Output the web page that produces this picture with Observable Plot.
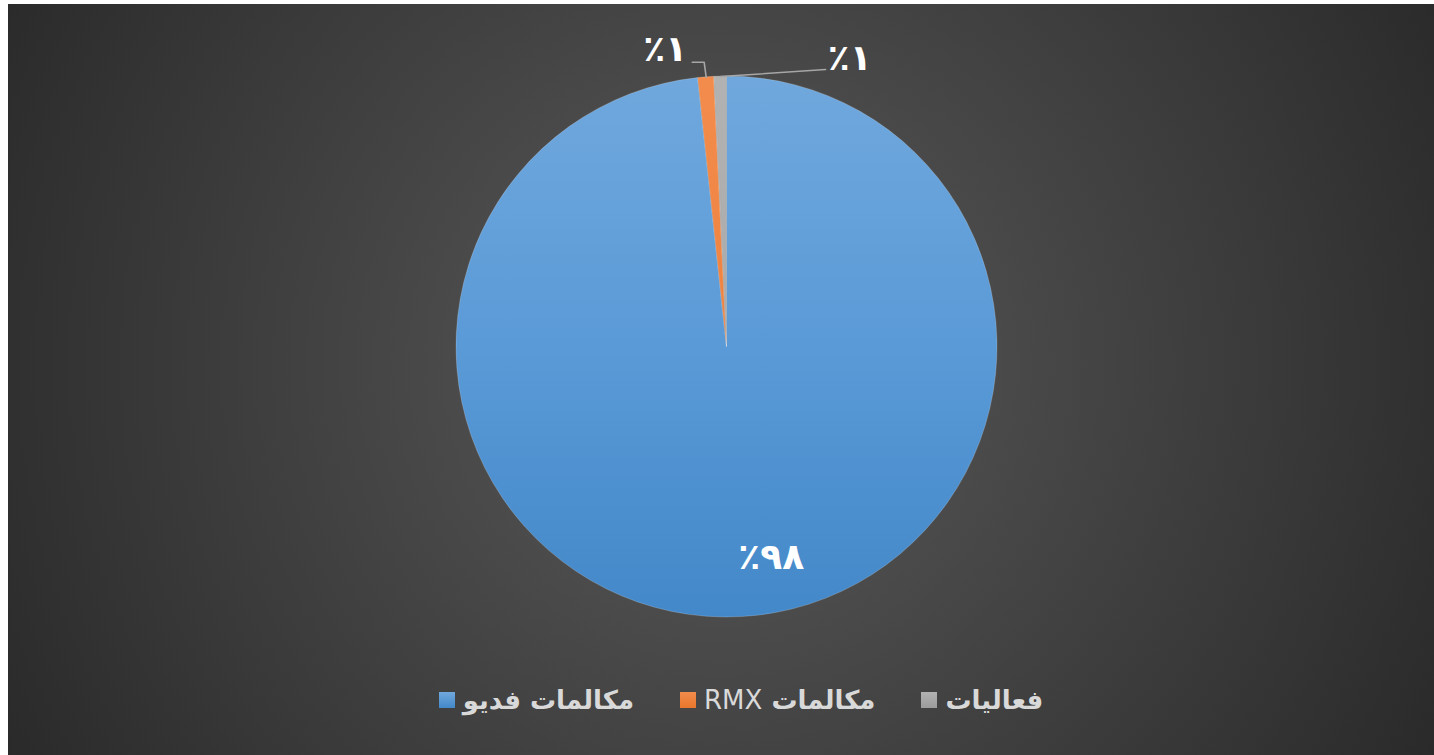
<!DOCTYPE html>
<html>
<head>
<meta charset="utf-8">
<script src="https://cdn.jsdelivr.net/npm/d3@7"></script>
<script src="https://cdn.jsdelivr.net/npm/@observablehq/plot@0.6"></script>
<style>
  body { margin: 0; background: #ffffff; }
  #chart {
    position: absolute; left: 8px; top: 4px; width: 1426px; height: 751px;
    background: radial-gradient(circle farthest-corner at 50% 48%, #5a5a5a 0%, #2a2a2a 100%);
    overflow: hidden;
  }
  #legend {
    position: absolute; left: 0; top: 676px; width: 1426px; height: 40px;
    display: flex; justify-content: center; align-items: center;
    padding-left: 40px; box-sizing: border-box;
    font-family: "DejaVu Sans", sans-serif; color: #d9d9d9; font-size: 26px;
  }
  .item { display: flex; align-items: center; margin: 0 23px; }
  .sw { width: 16px; height: 16px; margin-right: 8px; }
  .txt { direction: rtl; unicode-bidi: isolate; font-weight: bold; white-space: nowrap; }
  .lat { font-weight: normal; }
</style>
</head>
<body>
<div id="chart"></div>
<script>
// ---- data ----
const categories = ["مكالمات فديو", "مكالمات RMX", "فعاليات"];
const values = [98.3, 0.95, 0.75];
const labelTexts = ["٪٩٨", "٪١", "٪١"];
const palette = ["#5a9ad7", "#ef8240", "#aaaaaa"];
const gradTop = ["#70a8dd", "#f28c4c", "#b2b2b2"];
const gradBottom = ["#4388c9", "#e8762c", "#9c9c9c"];

// ---- layout ----
const W = 1426, H = 650;
const cx = 718.5, cy = 342.5, R = 270.5;
const unit = 1 / R;

const pie = d3.pie().sort(null)(values);
const slices = categories.map((c, i) => {
  const s = pie[i].startAngle, e = pie[i].endAngle, m = (s + e) / 2;
  return {cat: c, i, value: values[i], label: labelTexts[i], start: s, end: e, mid: m,
          ux: Math.sin(m), uy: Math.cos(m)};
});

// leader lines (pixel offsets from slice anchor on the rim) for the outside labels
const leaderOffsets = {1: [[0, 0], [-2, -15], [-14, -15]], 2: [[0, 0], [105, -7]]};
const labelOffsets = {1: [-27, -13], 2: [24, -11]};
const leaderPts = [];
const outsideLabels = [];
for (const k of [1, 2]) {
  const sl = slices[k];
  const pts = leaderOffsets[k];
  pts.forEach(([dx, dy]) => leaderPts.push({cat: sl.cat, x: sl.ux + dx * unit, y: sl.uy - dy * unit}));
  const [ex, ey] = pts[pts.length - 1];
  const [lx, ly] = labelOffsets[k];
  outsideLabels.push({label: sl.label, x: sl.ux + (ex + lx) * unit, y: sl.uy - (ey + ly) * unit});
}
const insideLabels = [{label: slices[0].label, x: slices[0].ux * 0.78, y: slices[0].uy * 0.78}];

function pieMark(index, scales) {
  const px = scales.x(0), py = scales.y(0), r = scales.x(1) - px;
  const g = d3.create("svg:g");
  const defs = g.append("defs");
  slices.forEach(sl => {
    const lg = defs.append("linearGradient")
      .attr("id", "grad" + sl.i).attr("gradientUnits", "userSpaceOnUse")
      .attr("x1", 0).attr("y1", -r).attr("x2", 0).attr("y2", r);
    lg.append("stop").attr("offset", "0%").attr("stop-color", gradTop[sl.i]);
    lg.append("stop").attr("offset", "50%").attr("stop-color", palette[sl.i]);
    lg.append("stop").attr("offset", "100%").attr("stop-color", gradBottom[sl.i]);
  });
  const arc = d3.arc().innerRadius(0).outerRadius(r);
  g.append("g").attr("transform", `translate(${px},${py})`)
    .selectAll("path").data(slices).join("path")
    .attr("d", d => arc({startAngle: d.start, endAngle: d.end}))
    .attr("fill", d => `url(#grad${d.i})`)
    .attr("stroke", "rgba(255,255,255,0.3)").attr("stroke-width", 0.6);
  return g.node();
}

const plot = Plot.plot({
  width: W, height: H,
  marginLeft: cx - R, marginRight: W - (cx + R),
  marginTop: cy - R, marginBottom: H - (cy + R),
  x: {domain: [-1, 1]}, y: {domain: [-1, 1]},
  axis: null,
  style: {background: "transparent", overflow: "visible"},
  marks: [
    pieMark,
    Plot.line(leaderPts, {x: "x", y: "y", z: "cat", stroke: "#a6a6a6", strokeWidth: 1.6}),
    Plot.text(outsideLabels, {x: "x", y: "y", text: "label", fill: "#ffffff",
      fontSize: 36, fontWeight: "bold", fontFamily: "DejaVu Sans"}),
    Plot.text(insideLabels, {x: "x", y: "y", text: "label", dx: 33, fill: "#ffffff",
      fontSize: 36, fontWeight: "bold", fontFamily: "DejaVu Sans"})
  ]
});
const chart = document.getElementById("chart");
chart.appendChild(plot);

// legend
const legend = document.createElement("div");
legend.id = "legend";
categories.forEach((c, i) => {
  const item = document.createElement("div");
  item.className = "item";
  const sw = document.createElement("div");
  sw.className = "sw";
  sw.style.background = `linear-gradient(${gradTop[i]}, ${gradBottom[i]})`;
  const t = document.createElement("span");
  t.className = "txt";
  t.innerHTML = c.replace("RMX", '<span class="lat">RMX</span>');
  item.appendChild(sw); item.appendChild(t);
  legend.appendChild(item);
});
chart.appendChild(legend);
</script>
</body>
</html>
